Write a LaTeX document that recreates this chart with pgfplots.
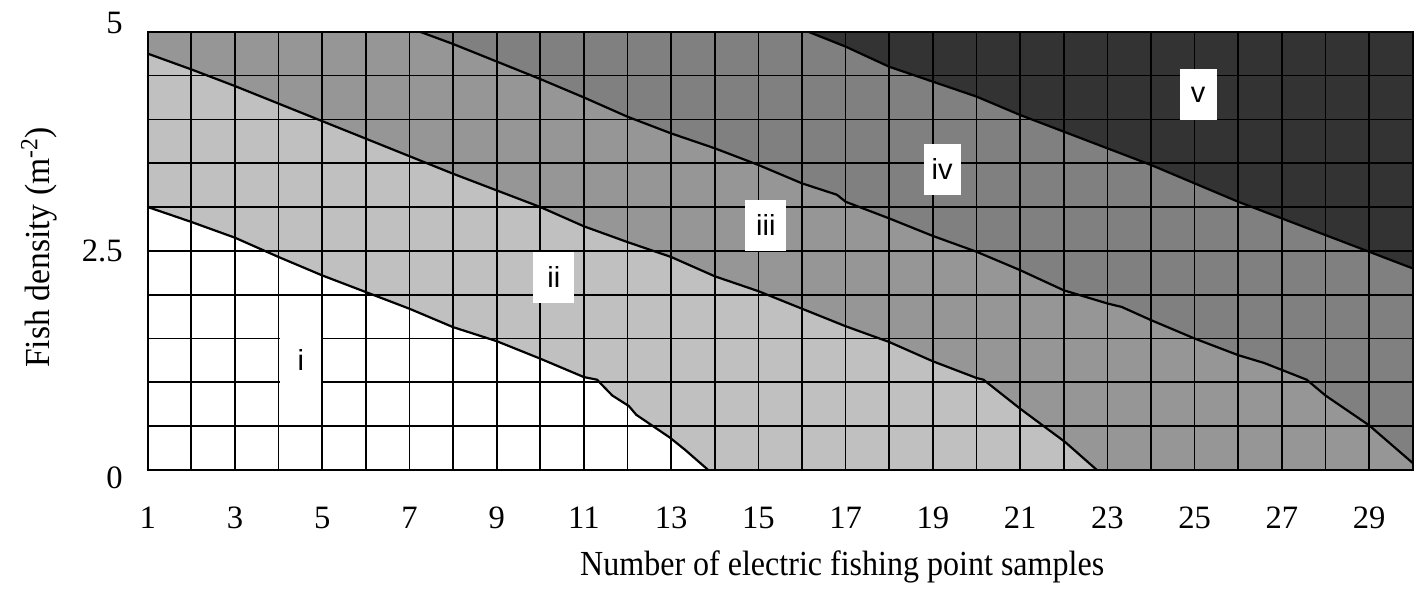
\documentclass[border=0pt]{standalone}
\usepackage{pgfplots}
\pgfplotsset{compat=1.18}
\usepackage{fontspec}
\setmainfont{Liberation Serif}
\newfontfamily\lsans{Liberation Sans}
\definecolor{cii}{HTML}{C0C0C0}
\definecolor{ciii}{HTML}{969696}
\definecolor{civ}{HTML}{808080}
\definecolor{cv}{HTML}{333333}
\begin{document}
\begin{tikzpicture}
\begin{axis}[
  scale only axis,
  width=632.5pt, height=219.15pt,
  xmin=1, xmax=30, ymin=0, ymax=5,
  axis on top,
  xtick={1,3,...,29},
  xticklabels={1,3,5,7,9,11,13,15,17,19,21,23,25,27,29},
  minor xtick={2,4,...,30},
  ytick={0,2.5,5},
  yticklabels={\raisebox{-4pt}[\height][\depth]{0},2.5,\raisebox{4.35pt}[\height][\depth]{5}},
  minor ytick={0.5,1,1.5,2,3,3.5,4,4.5},
  grid=both,
  grid style={black, line width=0.85pt},
  major grid style={black, line width=0.85pt},
  minor grid style={black, line width=0.85pt},
  major tick length=0pt, minor tick length=0pt,
  axis line style={black, line width=0.85pt},
  ticklabel style={font=\fontsize{16.3}{18}\selectfont},
  xticklabel style={anchor=base, yshift=-29pt},
  yticklabel style={anchor=east, inner sep=0pt, xshift=-12.35pt},
  every axis x label/.style={at={(axis description cs:0.549,0)}, anchor=base, yshift=-52.5pt, font=\fontsize{17.6}{20}\selectfont},
  every axis y label/.style={at={(axis description cs:0,0.508)}, rotate=90, anchor=base, yshift=48.9pt, font=\fontsize{17.6}{20}\selectfont},
  xlabel={\scalebox{0.91}[1]{Number of electric fishing point samples}},
  ylabel={\scalebox{0.955}[1]{Fish density (m\textsuperscript{-2})}},
]
% region ii
\addplot[fill=cii, draw=none] coordinates {
(1,3.0) (2,2.83) (3,2.65) (4,2.43) (5,2.22) (6,2.03) (7,1.84) (8,1.63) (9,1.47) (10,1.27) (11,1.06) (11.3,1.03) (11.65,0.85) (12.03,0.73) (12.2,0.63) (12.97,0.37) (13.32,0.23) (13.85,0)
(30,0) (30,5) (1,5)} -- cycle;
% region iii
\addplot[fill=ciii, draw=none] coordinates {
(1,4.75) (2,4.57) (3,4.38) (4,4.18) (5,3.98) (6,3.78) (7,3.58) (8,3.38) (9,3.19) (10,3.0) (11,2.78) (12,2.6) (13,2.43) (14,2.21) (15,2.04) (16,1.84) (17,1.64) (18,1.46) (19,1.24) (20,1.05) (20.16,1.03) (21,0.70) (21.46,0.53) (22.03,0.32) (22.76,0)
(30,0) (30,5) (1,5)} -- cycle;
% region iv
\addplot[fill=civ, draw=none] coordinates {
(7.24,5) (8,4.86) (9,4.66) (10,4.46) (11,4.25) (12,4.03) (13,3.84) (14,3.67) (15,3.48) (16,3.27) (16.8,3.14) (17,3.06) (18,2.87) (19,2.67) (20,2.49) (21,2.28) (22,2.05) (23,1.90) (23.33,1.86) (24,1.71) (25,1.50) (26,1.31) (26.6,1.22) (27.57,1.03) (28,0.85) (29,0.51) (30,0.08)
(30,5)} -- cycle;
% region v
\addplot[fill=cv, draw=none] coordinates {
(16.14,5) (17,4.83) (18,4.6) (19,4.43) (20,4.26) (21,4.05) (22,3.86) (23,3.67) (24,3.48) (25,3.27) (26,3.06) (27,2.87) (28,2.68) (29,2.49) (30,2.30)
(30,5)} -- cycle;
% boundary lines
\addplot[black, line width=1.1pt] coordinates {
(1,3.0) (2,2.83) (3,2.65) (4,2.43) (5,2.22) (6,2.03) (7,1.84) (8,1.63) (9,1.47) (10,1.27) (11,1.06) (11.3,1.03) (11.65,0.85) (12.03,0.73) (12.2,0.63) (12.97,0.37) (13.32,0.23) (13.85,0)};
\addplot[black, line width=1.1pt] coordinates {
(1,4.75) (2,4.57) (3,4.38) (4,4.18) (5,3.98) (6,3.78) (7,3.58) (8,3.38) (9,3.19) (10,3.0) (11,2.78) (12,2.6) (13,2.43) (14,2.21) (15,2.04) (16,1.84) (17,1.64) (18,1.46) (19,1.24) (20,1.05) (20.16,1.03) (21,0.70) (21.46,0.53) (22.03,0.32) (22.76,0)};
\addplot[black, line width=1.1pt] coordinates {
(7.24,5) (8,4.86) (9,4.66) (10,4.46) (11,4.25) (12,4.03) (13,3.84) (14,3.67) (15,3.48) (16,3.27) (16.8,3.14) (17,3.06) (18,2.87) (19,2.67) (20,2.49) (21,2.28) (22,2.05) (23,1.90) (23.33,1.86) (24,1.71) (25,1.50) (26,1.31) (26.6,1.22) (27.57,1.03) (28,0.85) (29,0.51) (30,0.08)};
\addplot[black, line width=1.1pt] coordinates {
(16.14,5) (17,4.83) (18,4.6) (19,4.43) (20,4.26) (21,4.05) (22,3.86) (23,3.67) (24,3.48) (25,3.27) (26,3.06) (27,2.87) (28,2.68) (29,2.49) (30,2.30)};
\coordinate (O) at (rel axis cs:0,0);
\coordinate (li) at (axis cs:4.51,1.25);
\coordinate (lii) at (axis cs:10.31,2.2);
\coordinate (liii) at (axis cs:15.17,2.79);
\coordinate (liv) at (axis cs:19.21,3.43);
\coordinate (lv) at (axis cs:25.08,4.28);
\end{axis}
\tikzset{lab/.style={fill=white, inner sep=0pt, minimum width=20.5pt, minimum height=25.5pt, font=\lsans\fontsize{14.5}{16}\selectfont}}
\node[lab] at (li) {i};
\node[lab] at (lii) {ii};
\node[lab] at (liii) {iii};
\node[lab, minimum width=18.5pt] at (liv) {iv};
\node[lab, minimum width=18.5pt] at (lv) {v};
\pgfresetboundingbox
\path[use as bounding box] (O) ++(-73.85pt,-60.5pt) rectangle ++(713pt,295.5pt);
\end{tikzpicture}
\end{document}
